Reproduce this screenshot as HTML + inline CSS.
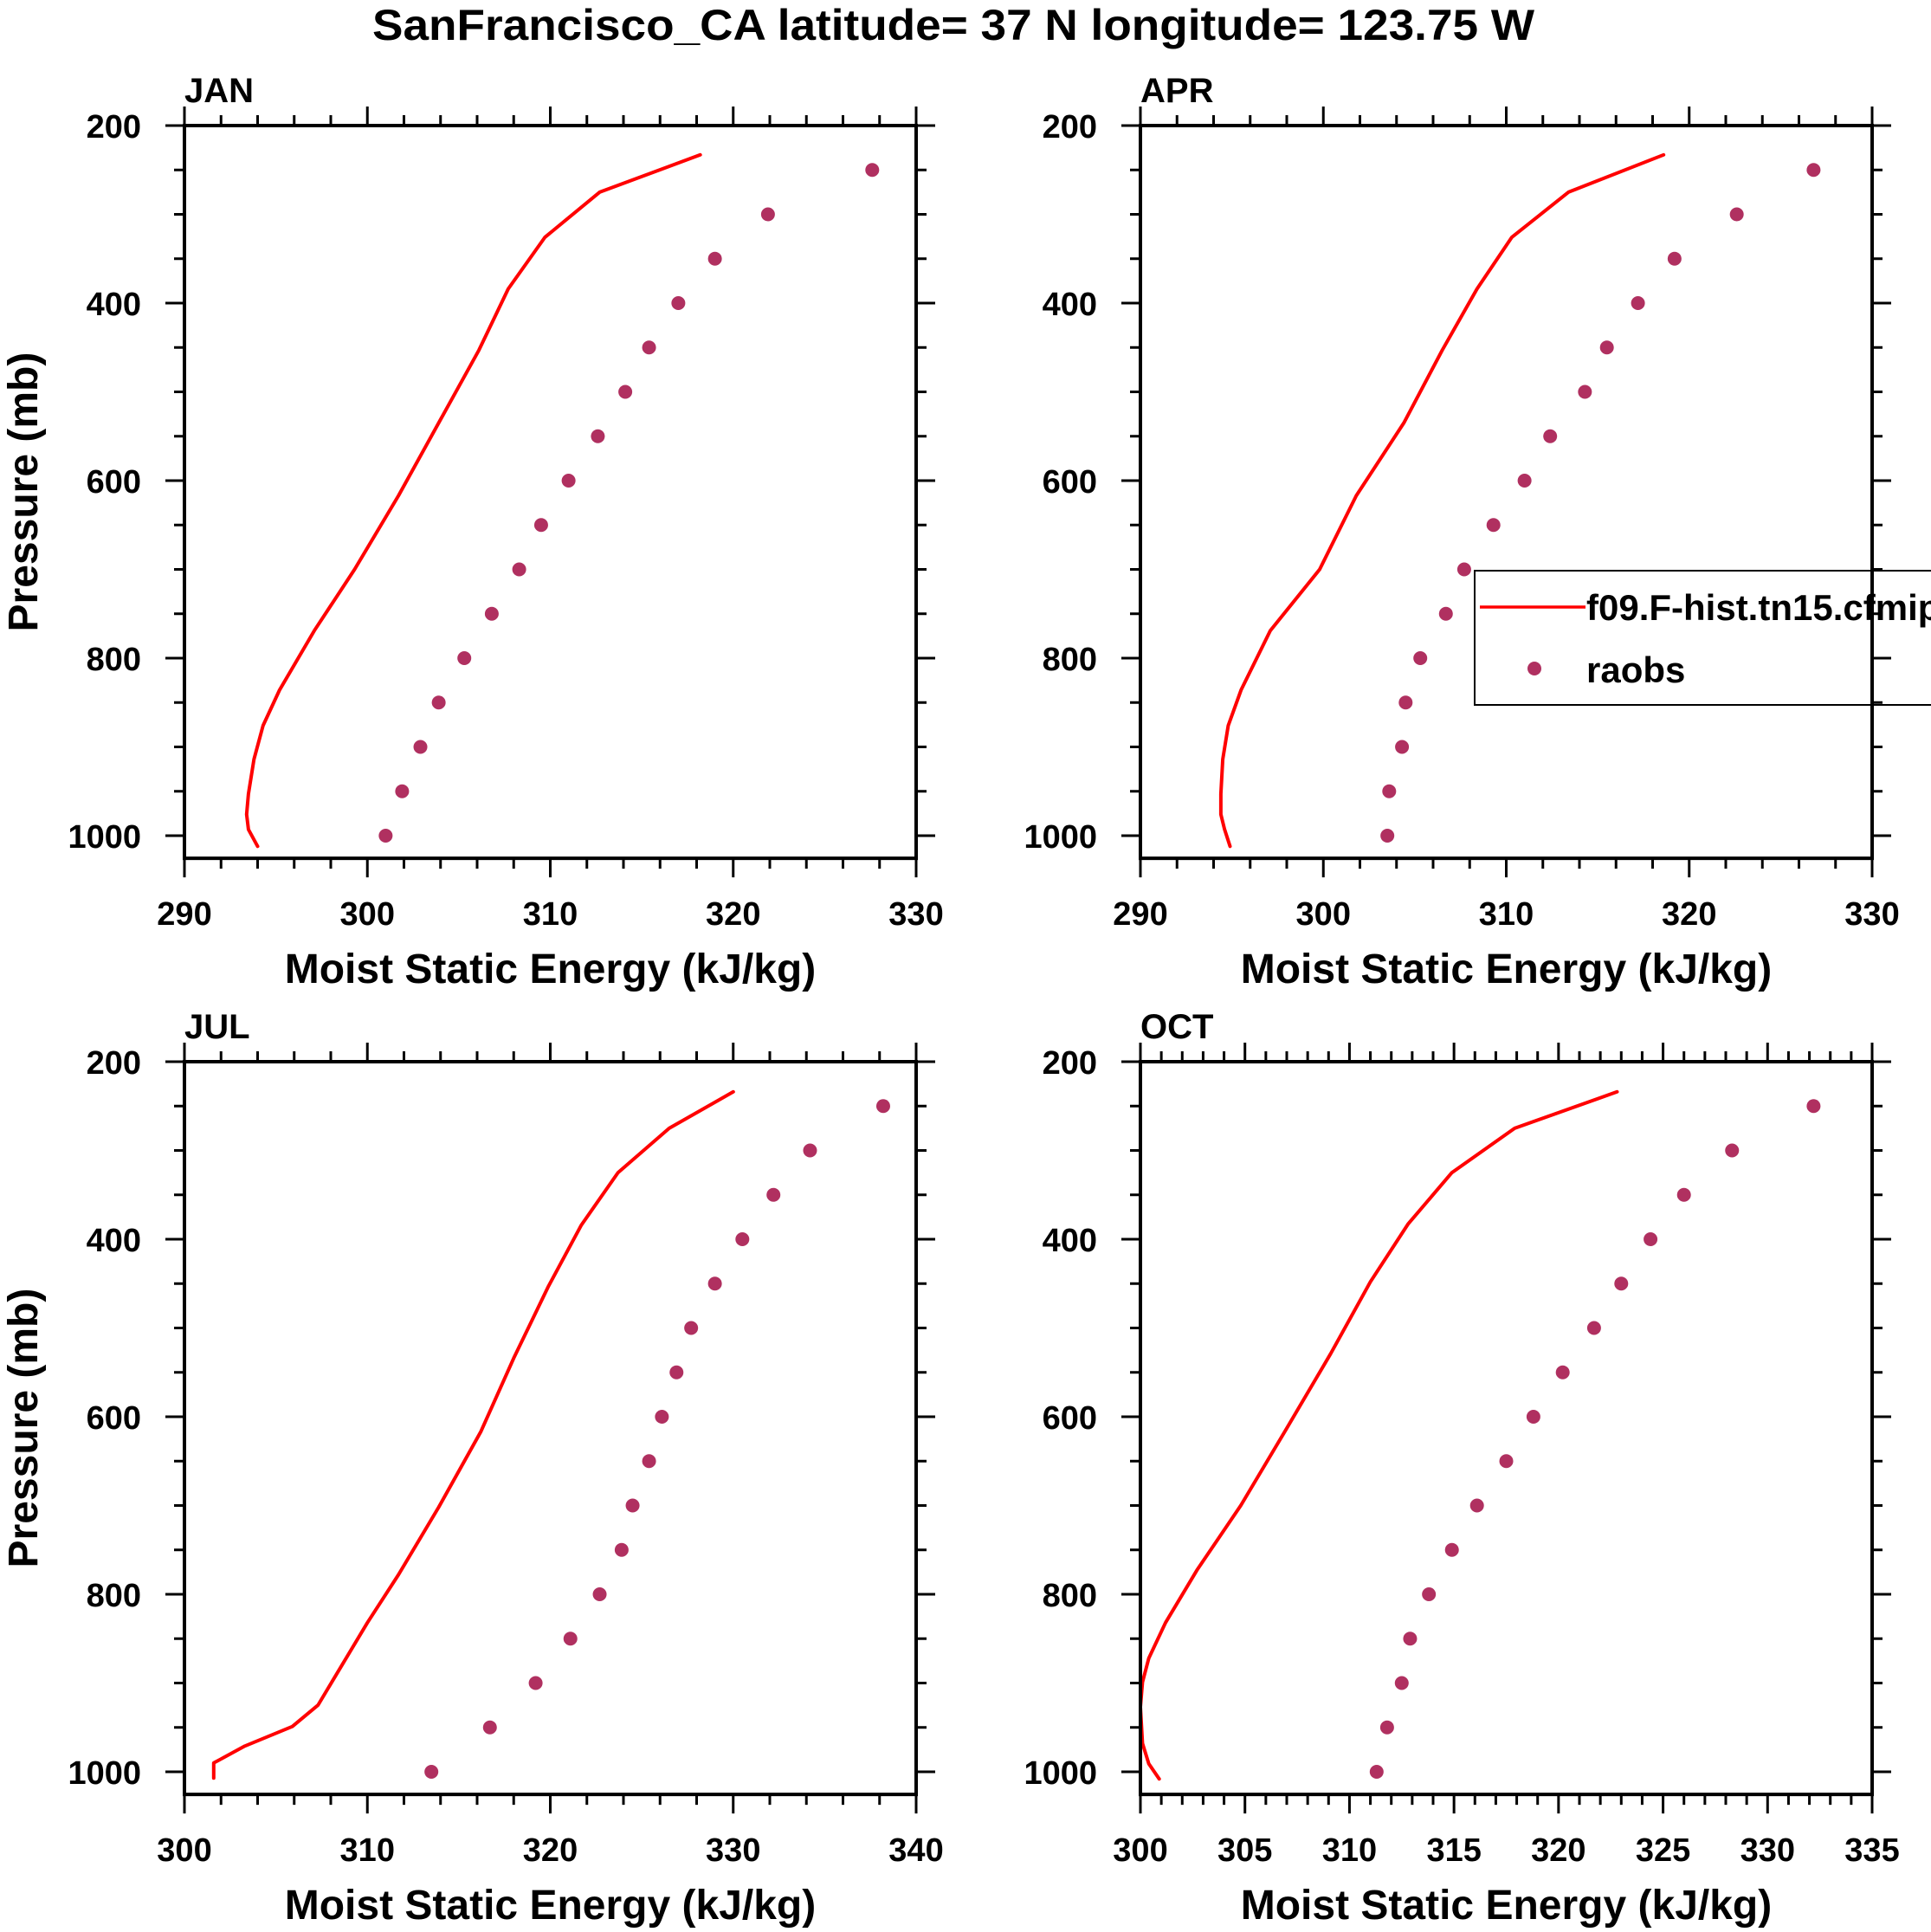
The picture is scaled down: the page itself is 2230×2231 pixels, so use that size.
<!DOCTYPE html>
<html><head><meta charset="utf-8"><style>
html,body{margin:0;padding:0;background:#fff;}
svg{display:block;font-family:"Liberation Sans",sans-serif;font-weight:bold;}
</style></head><body>
<svg id="chart" xmlns="http://www.w3.org/2000/svg" width="2230" height="2231" viewBox="0 0 2230 2231">
<rect width="2230" height="2231" fill="#fff"/>
<text x="1101" y="46" font-size="50" text-anchor="middle" textLength="1342" lengthAdjust="spacingAndGlyphs">SanFrancisco_CA  latitude= 37 N longitude= 123.75 W</text>
<g id="panels"></g>
<g id="legend">
<rect x="1703" y="659" width="540" height="155" fill="#fff" stroke="#000" stroke-width="2"/>
<line x1="1709" y1="701" x2="1831" y2="701" stroke="#ff0000" stroke-width="3.5"/>
<text x="1832" y="716" font-size="42">f09.F-hist.tn15.cfmip</text>
<circle cx="1772" cy="772" r="8" fill="#b03060"/>
<text x="1832" y="788" font-size="42">raobs</text>
</g>
</svg>
<script>
// observation pressure levels (mb)
const obsP = [250,300,350,400,450,500,550,600,650,700,750,800,850,900,950,1000];
// JAN
const janObs = [327.6,321.9,319.0,317.0,315.4,314.1,312.6,311.0,309.5,308.3,306.8,305.3,303.9,302.9,301.9,301.0];
const janModP = [233,275,326,384,453,535,617,700,769,836,876,914,953,976,993,1012];
const janMod = [318.2,312.7,309.7,307.7,306.1,303.9,301.7,299.3,297.1,295.2,294.3,293.8,293.5,293.4,293.5,294.0];
// APR
const aprObs = [326.8,322.6,319.2,317.2,315.5,314.3,312.4,311.0,309.3,307.7,306.7,305.3,304.5,304.3,303.6,303.5];
const aprModP = [233,275,326,384,453,535,617,700,769,836,876,914,953,976,993,1012];
const aprMod = [318.6,313.4,310.3,308.4,306.5,304.4,301.8,299.8,297.1,295.5,294.8,294.5,294.4,294.4,294.6,294.9];
// JUL
const julObs = [338.2,334.2,332.2,330.5,329.0,327.7,326.9,326.1,325.4,324.5,323.9,322.7,321.1,319.2,316.7,313.5];
const julModP = [234,275,325,384,453,534,617,702,778,832,925,949,971,990,1007];
const julMod = [330.0,326.5,323.7,321.7,319.9,318.0,316.2,313.9,311.7,310.0,307.3,305.9,303.3,301.6,301.6];
// OCT
const octObs = [332.2,328.3,326.0,324.4,323.0,321.7,320.2,318.8,317.5,316.1,314.9,313.8,312.9,312.5,311.8,311.3];
const octModP = [234,275,325,383,448,529,617,700,773,832,872,899,927,968,991,1008];
const octMod = [322.8,317.9,314.9,312.8,311.0,309.1,306.9,304.8,302.7,301.2,300.4,300.1,300.0,300.1,300.4,300.9];
// axes
const janXTicks = [290,300,310,320,330];
const julXTicks = [300,310,320,330,340];
const octXTicks = [300,305,310,315,320,325,330,335];
const yTicks = [200,400,600,800,1000];

const NS = "http://www.w3.org/2000/svg";
const root = document.getElementById('panels');
function mk(tag, attrs, parent){
  const e = document.createElementNS(NS, tag);
  for (const k in attrs) e.setAttribute(k, attrs[k]);
  parent.appendChild(e); return e;
}
const panels = [
  {name:'jan', label:'JAN', L:213, T:145, xmin:290, xmax:330, ticks:janXTicks, minor:2, obs:janObs, mp:janModP, mv:janMod, ylab:true},
  {name:'apr', label:'APR', L:1317, T:145, xmin:290, xmax:330, ticks:janXTicks, minor:2, obs:aprObs, mp:aprModP, mv:aprMod, ylab:false},
  {name:'jul', label:'JUL', L:213, T:1226, xmin:300, xmax:340, ticks:julXTicks, minor:2, obs:julObs, mp:julModP, mv:julMod, ylab:true},
  {name:'oct', label:'OCT', L:1317, T:1226, xmin:300, xmax:335, ticks:octXTicks, minor:1, obs:octObs, mp:octModP, mv:octMod, ylab:false}
];
const W = 845, PMIN = 200, PMAX = 1025.5, PPX = 1.025;
const H = (PMAX-PMIN)*PPX;
const leg = document.getElementById('legend');
panels.forEach(p => {
  const g = mk('g', {}, root);
  
  
  const xs = v => p.L + (v - p.xmin) / (p.xmax - p.xmin) * W;
  const ys = v => p.T + (v - PMIN) * PPX;
  const B = p.T + H, R = p.L + W;
  const t = mk('text', {x:p.L, y:p.T-27, 'font-size':40}, g);
  t.textContent = p.label;
  
  
  const pts = p.mv.map((v,i) => xs(v).toFixed(1) + ',' + ys(p.mp[i]).toFixed(1)).join(' ');
  const pl = mk('polyline', {points:pts, fill:'none', stroke:'#ff0000', 'stroke-width':4, 'stroke-linejoin':'round', 'stroke-linecap':'round'}, g);
  
  
  p.obs.forEach((v,i) => {
    const c = mk('circle', {cx:xs(v), cy:ys(obsP[i]), r:8, fill:'#b03060'}, g);
    
    
  });
  if (p.name === 'apr') g.appendChild(leg);
  const tk = mk('g', {stroke:'#000', 'stroke-width':3}, g);
  
  
  for (let v = p.xmin; v <= p.xmax + 1e-6; v += p.minor) {
    const major = p.ticks.includes(Math.round(v*100)/100);
    const len = major ? 22 : 12;
    mk('line', {x1:xs(v), y1:B, x2:xs(v), y2:B+len}, tk);
    mk('line', {x1:xs(v), y1:p.T, x2:xs(v), y2:p.T-len}, tk);
  }
  for (let v = 200; v <= 1000; v += 50) {
    const major = yTicks.includes(v);
    const len = major ? 22 : 12;
    mk('line', {x1:p.L, y1:ys(v), x2:p.L-len, y2:ys(v)}, tk);
    mk('line', {x1:R, y1:ys(v), x2:R+len, y2:ys(v)}, tk);
  }
  const fr = mk('rect', {x:p.L, y:p.T, width:W, height:H, fill:'none', stroke:'#000', 'stroke-width':4}, g);
  
  
  p.ticks.forEach(v => {
    const l = mk('text', {x:xs(v), y:B+77, 'font-size':38, 'text-anchor':'middle'}, g);
    l.textContent = v;
    
    
  });
  yTicks.forEach(v => {
    const l = mk('text', {x:p.L-50, y:ys(v)+14, 'font-size':38, 'text-anchor':'end'}, g);
    l.textContent = v;
    
    
  });
  const xt = mk('text', {x:p.L+W/2, y:B+144, 'font-size':48, 'text-anchor':'middle'}, g);
  xt.textContent = 'Moist Static Energy (kJ/kg)';
  
  
  if (p.ylab) {
    const cy = p.T + H/2;
    const yt = mk('text', {x:0, y:0, 'font-size':48, 'text-anchor':'middle', transform:'translate(43,' + cy + ') rotate(-90)'}, g);
    yt.textContent = 'Pressure (mb)';
    
    
  }
});
</script>
</body></html>
